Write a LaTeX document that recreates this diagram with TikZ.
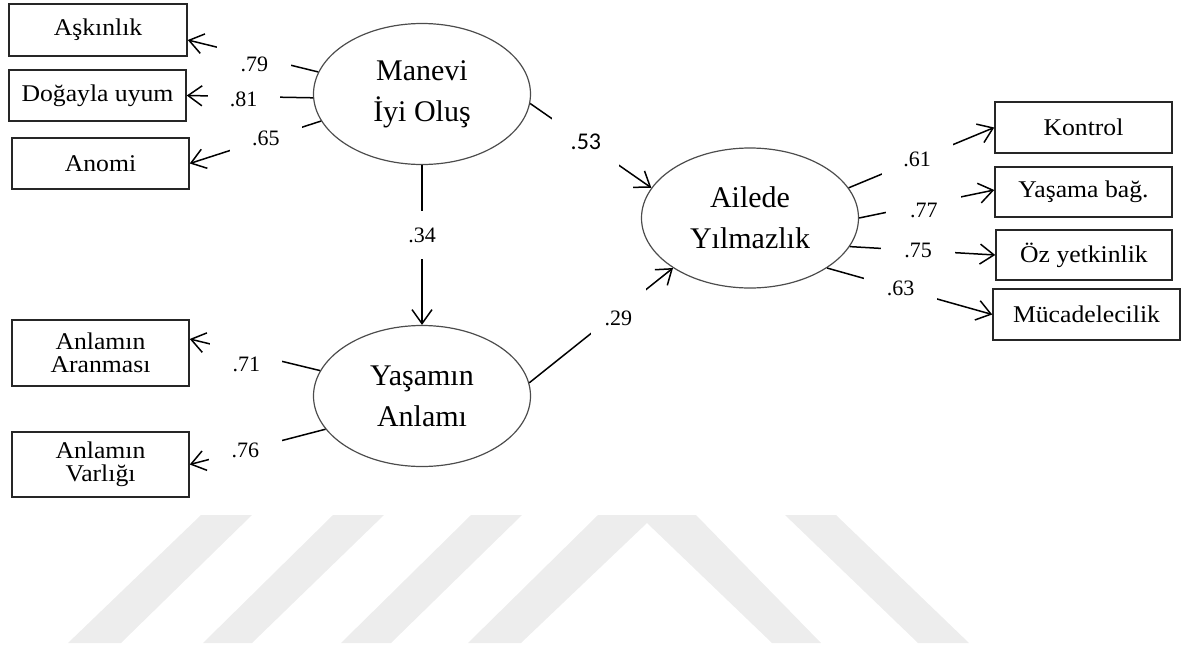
\documentclass[tikz,border=0pt]{standalone}
\usepackage{fontspec}
\setmainfont{Liberation Serif}
\newfontfamily\boxfont[FakeStretch=1.07]{Liberation Serif}
\newfontfamily\calibri{Carlito}
\usetikzlibrary{arrows.meta, shapes.geometric}
\tikzset{
  obs/.style = {draw=black!85, line width=1.5pt, rectangle, align=center,
    inner sep=0pt, minimum width=177pt, minimum height=51pt,
    font=\boxfont\fontsize{24}{23}\selectfont},
  lat/.style = {draw=black!70, line width=1.2pt, ellipse, align=center,
    inner sep=0pt, minimum width=217pt, minimum height=141pt,
    font=\fontsize{30}{41}\selectfont},
  coef/.style = {fill=white, inner sep=0pt, font=\fontsize{22}{24}\selectfont},
  wmstripe/.style = {fill=black!7, draw=none}
}

\begin{document}
\begin{tikzpicture}[x=1pt, y=-1pt, line width=1.5pt,
  >={Straight Barb[length=14pt,width=20pt]}]
\useasboundingbox (0,0) rectangle (1187,648);
% watermark
\fill[wmstripe] (201,515) -- (252,515) -- (121,643) -- (68,643) -- cycle;
\fill[wmstripe] (333,515) -- (384,515) -- (252,643) -- (203,643) -- cycle;
\fill[wmstripe] (471,515) -- (522,515) -- (391,643) -- (341,643) -- cycle;
\fill[wmstripe] (598,515) -- (696,515) -- (821,643) -- (772,643) -- (647,523)
  -- (521,643) -- (468,643) -- cycle;
\fill[wmstripe] (785,515) -- (836,515) -- (969,643) -- (918,643) -- cycle;

% latent variables
\node [lat] (mw) at (422,94) {Manevi\\İyi Oluş};
\node [lat] (ya) at (422,396) {Yaşamın\\Anlamı};
\node [lat, minimum height=140pt] (ai) at (750,218) {Ailede\\Yılmazlık};

% indicators
\node [obs, minimum width=178pt, minimum height=52pt] (ask) at (98,30) {Aşkınlık};
\node [obs] (dog) at (97.5,95.5) {Doğayla uyum};
\node [obs] (ano) at (100.5,163.5) {Anomi};
\node [obs, minimum height=66pt] (ana) at (100.5,353) {Anlamın\\Aranması};
\node [obs, minimum height=65pt] (var) at (100.5,464.5) {Anlamın\\Varlığı};
\node [obs] (kon) at (1083.5,127.5) {Kontrol};
\node [obs, minimum height=50pt] (yb) at (1083.5,192) {Yaşama bağ.};
\node [obs, minimum width=176pt, minimum height=50pt] (oz) at (1084,255) {Öz yetkinlik};
\node [obs, minimum width=187pt] (muc) at (1086.5,314.5) {Mücadelecilik};

% loadings and paths
\draw[->] (mw.168) -- node[coef, pos=.49, yshift=-8pt, minimum width=74pt, minimum height=40pt] {.79} ([yshift=-10pt]ask.east);
\draw[->] (mw.182) -- node[coef, pos=.55, yshift=-3pt, minimum width=72pt, minimum height=24pt] {.81} (dog.east);
\draw[->] (mw.195) -- node[coef, pos=.42, minimum width=72pt, minimum height=30pt] {.65} (ano.east);
\draw[->] (mw) -- node[coef, pos=.44, minimum width=30pt, minimum height=48pt] {.34} (ya);
\draw[->] (mw.355) -- node[coef, pos=.46, minimum width=67pt, minimum height=60pt,
  font=\calibri\fontsize{24}{26}\selectfont] {.53} (ai.163);
\draw[->] (ya.7) -- node[coef, pos=.62, yshift=-7pt, minimum width=55pt, minimum height=62pt] {.29} (ai.213);
\draw[->] (ai.17) -- node[coef, pos=.47, minimum width=71pt, minimum height=36pt] {.61} (kon.west);
\draw[->] (ai.0) -- node[coef, pos=.48, yshift=-6pt, minimum width=75pt, minimum height=30pt] {.77} ([yshift=2pt]yb.west);
\draw[->] (ai.344) -- node[coef, pos=.47, minimum width=74pt, minimum height=22pt] {.75} (oz.west);
\draw[->] (ai.327) -- node[coef, pos=.445, minimum width=73pt, minimum height=26pt] {.63} (muc.west);
\draw[->] (ya.166) -- node[coef, pos=.565, yshift=-12pt, minimum width=72pt, minimum height=48pt] {.71} ([yshift=14pt]ana.east);
\draw[->] (ya.199) -- node[coef, pos=.59, minimum width=73pt, minimum height=26pt] {.76} (var.east);
\end{tikzpicture}
\end{document}
